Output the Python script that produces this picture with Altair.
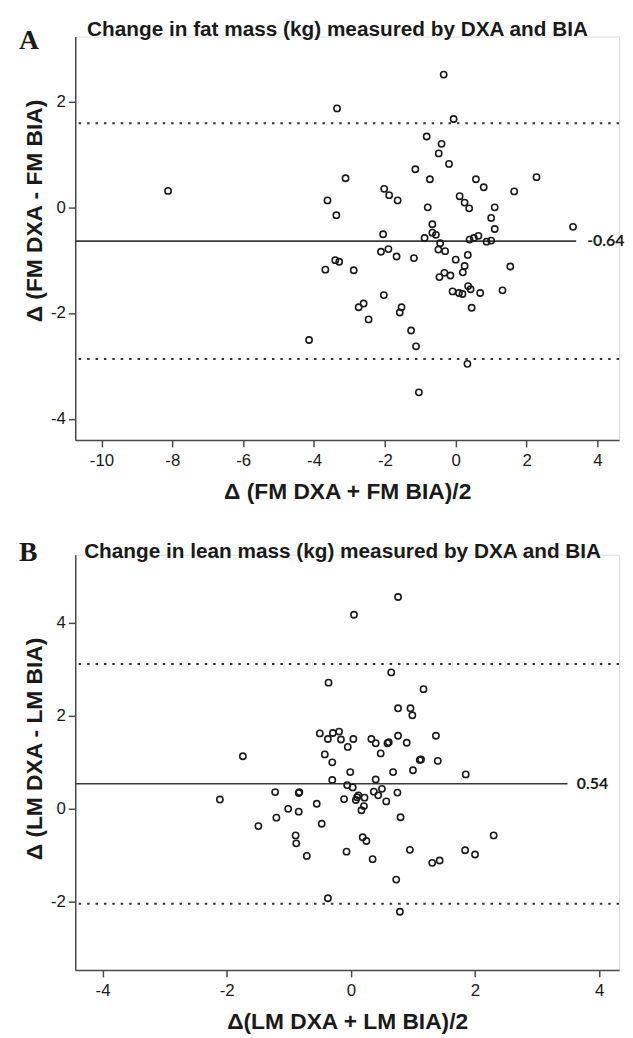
import altair as alt
import pandas as pd

# ---------------- Panel A: fat mass ----------------
FM_AVG = [-8.12, -0.34, -3.35, -0.06, -0.82, -0.40, -0.48, -0.19, -1.14, -3.11,
          -0.73, 0.57, 2.28, 0.79, -2.02, -1.88, -1.64, -3.62, 1.65, 0.11,
          0.25, 0.38, 1.10, -0.79, -3.37, 1.00, 1.10, -0.66, -0.66, -0.56,
          -2.05, -0.88, 3.31, 0.39, 0.51, 0.64, 0.87, 1.00, -0.44, -0.49,
          -0.30, -2.11, -1.90, -1.67, -1.18, 0.34, 0.00, -3.40, -3.29, -3.68,
          -2.88, 0.25, 1.54, -0.32, -0.46, -0.15, 0.20, -2.03, -0.09, 0.09,
          0.19, 0.35, 0.42, 0.69, 1.32, 0.45, -2.74, -2.60, -2.46, -1.58,
          -1.53, -1.26, -1.12, 0.33, -1.04, -4.14]
FM_DIFF = [0.31, 2.51, 1.87, 1.67, 1.34, 1.20, 1.02, 0.82, 0.72, 0.55,
           0.53, 0.53, 0.57, 0.38, 0.35, 0.23, 0.13, 0.13, 0.30, 0.21,
           0.09, -0.02, 0.00, 0.00, -0.15, -0.20, -0.41, -0.32, -0.48, -0.52,
           -0.51, -0.58, -0.37, -0.61, -0.58, -0.54, -0.65, -0.63, -0.68, -0.80,
           -0.83, -0.84, -0.79, -0.93, -0.96, -0.90, -0.99, -1.00, -1.03, -1.18,
           -1.19, -1.11, -1.12, -1.24, -1.32, -1.29, -1.23, -1.66, -1.59, -1.62,
           -1.64, -1.49, -1.55, -1.62, -1.57, -1.90, -1.89, -1.82, -2.12, -1.99,
           -1.89, -2.33, -2.63, -2.96, -3.50, -2.51]
FM_BIAS = -0.64
FM_LIMITS = [1.59, -2.87]
FM_BIAS_END = 3.40
FM_LABEL_X = 3.71
FM_X_TICKS = [-10, -8, -6, -4, -2, 0, 2, 4]
FM_Y_TICKS = [-4, -2, 0, 2]
FM_X_DOMAIN = [-10.74, 4.61]
FM_Y_DOMAIN = [-4.40, 3.23]

# ---------------- Panel B: lean mass ----------------
LM_AVG = [0.05, -0.36, -0.50, -0.37, -0.29, -0.19, -0.16, 0.04, -0.05, -0.42,
          -0.30, -0.01, -1.74, -0.30, 0.76, 0.65, 1.17, 0.76, 0.96, 0.99,
          0.33, 0.40, 0.59, 0.61, 0.76, 0.90, 1.37, 0.48, 1.11, 1.13,
          1.40, 0.68, 1.00, 1.85, 0.40, -2.11, -1.22, -0.84, -0.83, -0.06,
          0.03, -0.11, -1.01, -0.84, -0.55, -1.20, -1.49, -0.47, -0.89, -0.88,
          -0.71, -0.07, -0.37, 0.10, 0.12, 0.08, 0.22, 0.37, 0.44, 0.50,
          0.75, 0.57, 0.21, 0.17, 0.80, 0.19, 0.25, 0.35, 0.95, 1.31,
          1.43, 1.84, 2.00, 2.30, 0.73, 0.79]
LM_DIFF = [4.17, 2.71, 1.62, 1.50, 1.63, 1.66, 1.49, 1.50, 1.33, 1.17,
           1.00, 0.79, 1.13, 0.62, 4.55, 2.93, 2.57, 2.16, 2.16, 2.01,
           1.50, 1.41, 1.41, 1.43, 1.57, 1.42, 1.57, 1.19, 1.05, 1.06,
           1.03, 0.79, 0.83, 0.74, 0.63, 0.20, 0.36, 0.34, 0.36, 0.51,
           0.46, 0.21, 0.00, -0.06, 0.11, -0.19, -0.37, -0.32, -0.57, -0.74,
           -1.01, -0.92, -1.92, 0.25, 0.29, 0.19, 0.24, 0.37, 0.29, 0.43,
           0.35, 0.16, 0.06, -0.03, -0.18, -0.61, -0.69, -1.08, -0.88, -1.16,
           -1.11, -0.89, -0.98, -0.57, -1.52, -2.21]
LM_BIAS = 0.54
LM_LIMITS = [3.11, -2.04]
LM_BIAS_END = 3.49
LM_LABEL_X = 3.64
LM_X_TICKS = [-4, -2, 0, 2, 4]
LM_Y_TICKS = [-2, 0, 2, 4]
LM_X_DOMAIN = [-4.44, 4.32]
LM_Y_DOMAIN = [-3.46, 5.46]

SANS = "Liberation Sans"
INK = "#1a1a1a"
AXIS_GREY = "#4a4a4a"
HYPHEN_LABEL = "'' + datum.value"


def panel(avg, diff, bias, limits, bias_end, label_x, xticks, yticks, xdom, ydom,
          xtitle, ytitle, title, letter, height, title_y, title_dx, letter_y,
          title_base):
    df = pd.DataFrame({"avg": avg, "diff": diff})
    xscale = alt.Scale(domain=xdom, nice=False, zero=False)
    yscale = alt.Scale(domain=ydom, nice=False, zero=False)
    xaxis = alt.Axis(values=xticks, title=xtitle, grid=False, labelExpr=HYPHEN_LABEL,
                     domainColor=AXIS_GREY, domainWidth=1.5, tickColor=AXIS_GREY,
                     tickWidth=1.5, tickSize=7, labelFont=SANS, labelFontSize=17,
                     labelColor=INK, labelPadding=6, titleFont=SANS, titleFontSize=23,
                     titleFontWeight="bold", titleColor=INK, titlePadding=12)
    yaxis = alt.Axis(values=yticks, title=ytitle, grid=False, labelExpr=HYPHEN_LABEL,
                     domainColor=AXIS_GREY, domainWidth=1.5, tickColor=AXIS_GREY,
                     tickWidth=1.5, tickSize=7, labelFont=SANS, labelFontSize=17,
                     labelColor=INK, labelPadding=3, titleFont=SANS, titleFontSize=23,
                     titleFontWeight="bold", titleColor=INK, titlePadding=4,
                     titleY=title_y)

    points = alt.Chart(df).mark_point(
        shape="circle", filled=False, size=40, strokeWidth=1.6, color=INK, opacity=1
    ).encode(
        x=alt.X("avg:Q", scale=xscale, axis=xaxis),
        y=alt.Y("diff:Q", scale=yscale, axis=yaxis),
    )

    limits_rule = alt.Chart(pd.DataFrame({"y": limits})).mark_rule(
        strokeDash=[2.5, 6], color="#333333", strokeWidth=2
    ).encode(y="y:Q")

    bias_df = pd.DataFrame({"x": [xdom[0]], "x2": [bias_end], "y": [bias]})
    bias_rule = alt.Chart(bias_df).mark_rule(color="#3a3a3a", strokeWidth=1.6).encode(
        x="x:Q", x2="x2:Q", y="y:Q"
    )

    label_df = pd.DataFrame({"x": [label_x], "y": [bias], "t": [f"{bias:.2f}"]})
    bias_text = alt.Chart(label_df).mark_text(
        font="Lato", fontWeight="bold", fontSize=16, align="left", baseline="middle",
        color=INK
    ).encode(x="x:Q", y="y:Q", text="t:N")

    letter_text = alt.Chart(pd.DataFrame({"t": [letter]})).mark_text(
        font="Liberation Serif", fontWeight="bold", fontSize=28, align="left",
        baseline="alphabetic", color=INK
    ).encode(x=alt.value(-57), y=alt.value(letter_y), text="t:N")

    title_text = alt.Chart(pd.DataFrame({"t": [title]})).mark_text(
        font=SANS, fontWeight="bold", fontSize=21, align="left",
        baseline="alphabetic", color=INK
    ).encode(x=alt.value(title_dx), y=alt.value(title_base), text="t:N")

    return alt.layer(limits_rule, bias_rule, points, bias_text, letter_text,
                     title_text).properties(width=550, height=height)


panel_a = panel(FM_AVG, FM_DIFF, FM_BIAS, FM_LIMITS, FM_BIAS_END, FM_LABEL_X,
                FM_X_TICKS, FM_Y_TICKS, FM_X_DOMAIN, FM_Y_DOMAIN,
                "\u0394 (FM DXA + FM BIA)/2", "\u0394 (FM DXA - FM BIA)",
                "Change in fat mass (kg) measured by DXA and BIA", "A", 408, 176, 12,
                13, -1)
panel_b = panel(LM_AVG, LM_DIFF, LM_BIAS, LM_LIMITS, LM_BIAS_END, LM_LABEL_X,
                LM_X_TICKS, LM_Y_TICKS, LM_X_DOMAIN, LM_Y_DOMAIN,
                "\u0394(LM DXA + LM BIA)/2", "\u0394 (LM DXA - LM BIA)",
                "Change in lean mass (kg) measured by DXA and BIA", "B", 420, 196, 9,
                6, 3)

chart = alt.vconcat(panel_a, panel_b, spacing=34).properties(
    padding={"left": 10, "top": 4, "right": 0, "bottom": 0}
).configure_view(stroke=None).configure(background="white")

chart.save("out.html", embed_options={"renderer": "svg", "actions": False})
